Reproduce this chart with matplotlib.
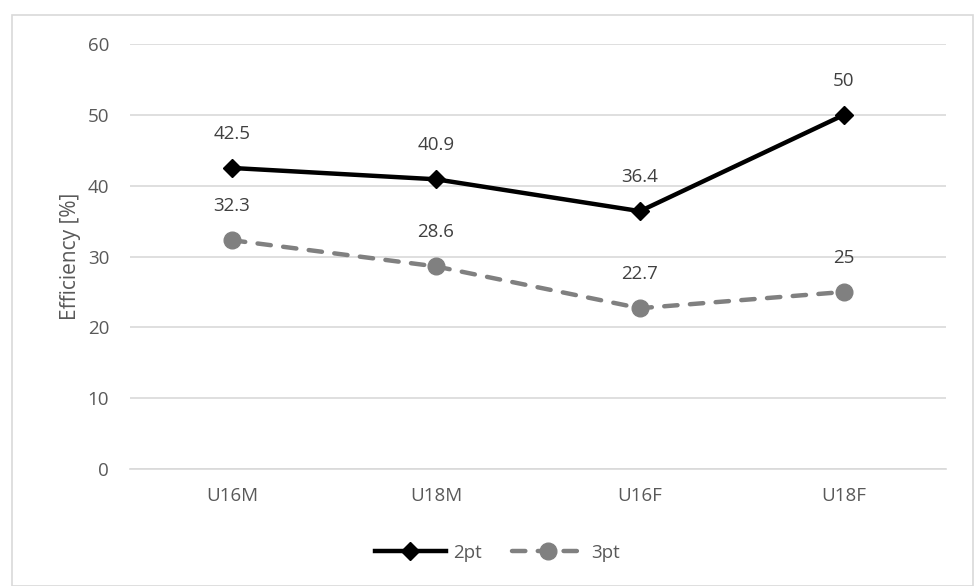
import matplotlib.pyplot as plt
import matplotlib.patches as mpatches

# data
groups = ["U16M", "U18M", "U16F", "U18F"]
two_pt = [42.5, 40.9, 36.4, 50]
three_pt = [32.3, 28.6, 22.7, 25]
yticks = [0, 10, 20, 30, 40, 50, 60]

plt.rcParams['font.family'] = ['Open Sans', 'DejaVu Sans']
txt = '#595959'
fs = 13.5

fig = plt.figure(figsize=(9.74, 5.86), dpi=100)
ax = fig.add_axes([130 / 974, 1 - 469 / 586, 816 / 974, 425 / 586])

# outer chart frame
fig.patches.append(mpatches.Rectangle((12 / 974, 0), 961 / 974, 1 - 15 / 586,
                                      transform=fig.transFigure, fill=False,
                                      edgecolor='#d9d9d9', linewidth=1.2))

x = range(len(groups))
ax.plot(x, two_pt, color='black', linewidth=3.2, marker='D', markersize=9,
        label='2pt', zorder=3)
ax.plot(x, three_pt, color='#808080', linewidth=3.2, linestyle=(0, (3, 2.8)),
        dash_capstyle='round', marker='o', markersize=12, label='3pt', zorder=3)

for series in (two_pt, three_pt):
    for i, v in enumerate(series):
        ax.annotate(f"{v:g}", (i, v), xytext=(0, 18), textcoords='offset points',
                    ha='center', va='bottom', fontsize=fs, color='#404040')

ax.set_xlim(-0.5, 3.5)
ax.set_ylim(0, 60)
ax.set_yticks(yticks)
ax.set_xticks(list(x))
ax.set_xticklabels(groups)
ax.grid(axis='y', color='#d9d9d9', linewidth=1.2)
ax.set_axisbelow(True)
for s in ['top', 'right', 'left']:
    ax.spines[s].set_visible(False)
ax.spines['bottom'].set_color('#d9d9d9')
ax.spines['bottom'].set_linewidth(1.2)
ax.tick_params(length=0, labelsize=fs, labelcolor=txt, pad=13)
ax.tick_params(axis='y', pad=15)
ax.set_ylabel("Efficiency [%]", fontsize=15, color=txt, labelpad=5)

fig.legend(loc='center', bbox_to_anchor=(497 / 974, 1 - 553 / 586), ncol=2,
           frameon=False, fontsize=fs, labelcolor=txt, handlelength=3.8,
           columnspacing=1.6, handletextpad=0.4)

fig.savefig('out.png', dpi=100)
